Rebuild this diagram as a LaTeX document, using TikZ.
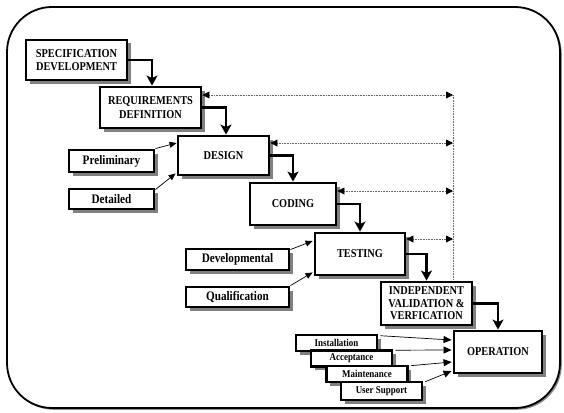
\documentclass[tikz,border=0pt]{standalone}
\usepackage{fontspec}
\setmainfont{Liberation Serif}[FakeStretch=0.86]
\usetikzlibrary{arrows.meta,shadows}
\begin{document}
\begin{tikzpicture}[x=1pt,y=-1pt,
  shadowed/.style={drop shadow={shadow xshift=3.5pt,shadow yshift=-3.5pt,fill=black!50,opacity=1}},
  bigbox/.style={draw,line width=2.9pt,fill=white,align=center,inner sep=0pt,shadowed,
     font=\bfseries\fontsize{12}{13.5}\selectfont},
  subbox/.style={draw,line width=2.9pt,fill=white,align=center,inner sep=0pt,shadowed,
     font=\bfseries\fontsize{13}{14}\selectfont},
  tinybox/.style={draw,line width=2.6pt,fill=white,align=center,inner sep=0pt,shadowed,
     font=\bfseries\fontsize{10.4}{12}\selectfont,minimum width=81pt},
  flow/.style={line width=2.8pt,line join=miter,-{Stealth[length=10pt,width=11pt,inset=2.5pt]}},
  feed/.style={line width=0.7pt,-{Triangle[length=7pt,width=6pt]}},
  opfeed/.style={line width=0.7pt,-{Triangle[length=8pt,width=7pt]}},
  dotline/.style={draw=black!60,line width=0.8pt,dash pattern=on 0.8pt off 0.8pt},
  dotarrow/.style={dotline,{Triangle[length=7pt,width=7pt,color=black]}-{Triangle[length=7pt,width=7pt,color=black]}}
]
\useasboundingbox (0,0) rectangle (564,412);
\draw[line width=1.8pt,rounded corners=45pt,fill=white,
  drop shadow={shadow xshift=1.8pt,shadow yshift=-1.8pt,fill=black!45,opacity=1}] (7,7) rectangle (560,408);

% main waterfall
\node[bigbox,minimum width=101pt,minimum height=40pt] (spec) at (76.5,60) {SPECIFICATION\\DEVELOPMENT};
\node[bigbox,minimum width=101pt,minimum height=41pt] (req) at (150.5,107.5) {REQUIREMENTS\\DEFINITION};
\node[bigbox,minimum width=91pt,minimum height=39pt] (design) at (223.5,155.5) {DESIGN};
\node[bigbox,minimum width=86pt,minimum height=42pt] (coding) at (293,204) {CODING};
\node[bigbox,minimum width=90pt,minimum height=42pt] (testing) at (360,254) {TESTING};
\node[bigbox,minimum width=91pt,minimum height=43pt,font=\bfseries\fontsize{12}{12.5}\selectfont] (ivv) at (426.5,303.5) {INDEPENDENT\\VALIDATION \&\\VERFICATION};
\node[bigbox,minimum width=88pt,minimum height=42pt] (oper) at (498,352) {OPERATION};

% side boxes
\node[subbox,minimum width=85pt,minimum height=22pt] (prelim) at (111.5,161) {Preliminary};
\node[subbox,minimum width=85pt,minimum height=20pt] (detail) at (111.5,199) {Detailed};
\node[subbox,minimum width=103pt,minimum height=21pt] (devel) at (237.5,259.5) {Developmental};
\node[subbox,minimum width=103pt,minimum height=20pt] (qual) at (237.5,297) {Qualification};

% operation inputs (stacked)
\node[tinybox,minimum height=16pt] (inst) at (336.5,343) {Installation};
\node[tinybox,minimum height=16pt] (acc) at (351.5,358.5) {Acceptance};
\node[tinybox,minimum height=16pt] (maint) at (367,374) {Maintenance};
\node[tinybox,minimum height=18pt] (user) at (381.5,391) {User Support};

% flow arrows
\draw[flow] (spec.east) -| ([xshift=1.5pt]req.north);
\draw[flow] (req.east) -| ([xshift=2.5pt]design.north);
\draw[flow] (design.east) -| (coding.north);
\draw[flow] (coding.east) -| (testing.north);
\draw[flow] (testing.east) -| (ivv.north);
\draw[flow] (ivv.east) -| (oper.north);

% dotted feedback
\coordinate (v1) at (453,95);
\coordinate (v2) at (453,143);
\coordinate (v3) at (453,191);
\coordinate (v4) at (453,239);
\coordinate (vb) at (453,280);
\draw[dotline] (v1) -- (vb);
\draw[dotarrow] (req.east |- v1) -- (v1);
\draw[dotarrow] (design.east |- v2) -- (v2);
\draw[dotarrow] (coding.east |- v3) -- (v3);
\draw[dotarrow] (testing.east |- v4) -- (v4);

% feeds
\draw[feed] (prelim.north east) -- ([yshift=12.5pt]design.west);
\draw[feed] ([yshift=-2pt]detail.north east) -- ([yshift=3pt,xshift=-1pt]design.south west);
\draw[feed] ([yshift=-2pt]devel.north east) -- ([yshift=13pt,xshift=-1pt]testing.west);
\draw[feed] (qual.north east) -- ([yshift=4pt,xshift=-1pt]testing.south west);

\draw[opfeed] ([xshift=2pt,yshift=-2pt]inst.north east) -- ([yshift=12pt,xshift=-1pt]oper.west);
\draw[opfeed] ([xshift=2pt,yshift=-1pt]acc.north east) -- ([yshift=2pt,xshift=-1pt]oper.west);
\draw[opfeed] ([xshift=2pt,yshift=-1pt]maint.north east) -- ([yshift=-10pt,xshift=-1pt]oper.west);
\draw[opfeed] ([xshift=2pt,yshift=-1pt]user.north east) -- ([yshift=-19pt,xshift=-1pt]oper.west);
\end{tikzpicture}
\end{document}
